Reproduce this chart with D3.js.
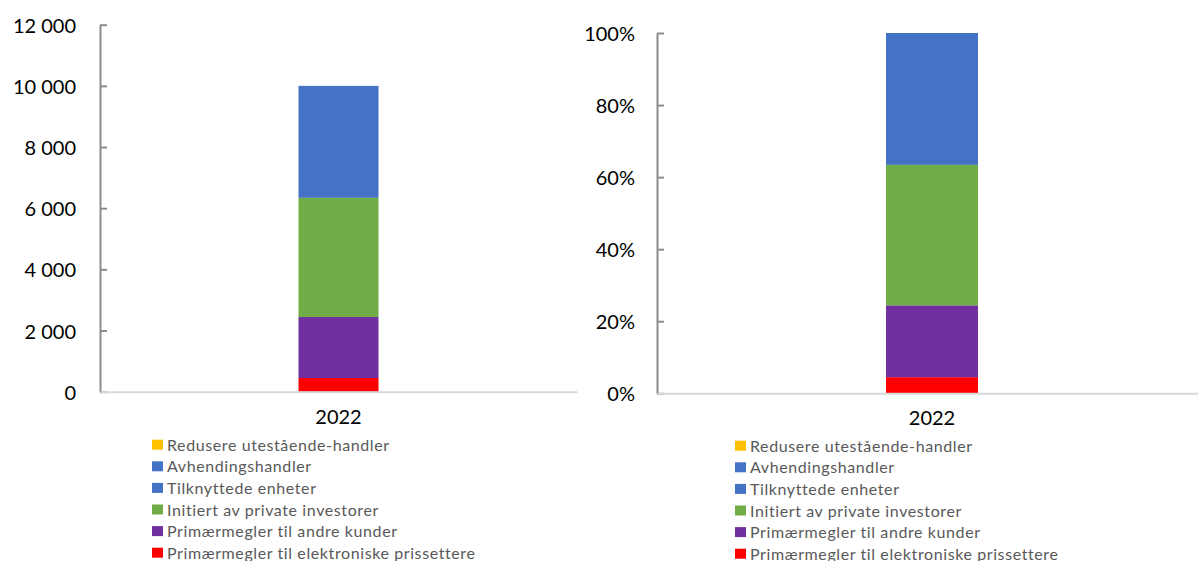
<!DOCTYPE html>
<html>
<head>
<meta charset="utf-8">
<script src="https://cdn.jsdelivr.net/npm/d3@7"></script>
<style>
  body { margin: 0; background: #fff; }
  svg { display: block; }
  text { font-family: Lato, "Open Sans", sans-serif; }
</style>
</head>
<body>
<div id="chart"></div>
<script>
const svgWidth = 1198;
const svgHeight = 561;

// data (stack order bottom -> top)
const years = ["2022"];
const seriesNames = [
  "Primærmegler til elektroniske prissettere",
  "Primærmegler til andre kunder",
  "Initiert av private investorer",
  "Tilknyttede enheter",
  "Avhendingshandler",
  "Redusere utestående-handler"
];
const seriesColors = ["#ff0000", "#7030a0", "#70ad47", "#4472c4", "#4472c4", "#ffc000"];
const values2022 = [448, 1994, 3898, 3660, 0, 0];
const countTicks = [0, 2000, 4000, 6000, 8000, 10000, 12000];
const shareTicks = [0, 0.2, 0.4, 0.6, 0.8, 1];

const svg = d3.select("#chart")
  .append("svg")
  .attr("width", svgWidth)
  .attr("height", svgHeight);

const nb = d3.formatLocale({decimal: ",", thousands: "\u00a0", grouping: [3], currency: ["", " kr"]});
const fmtCount = nb.format(",.0f");
const fmtPct = d3.format(".0%");

const total = d3.sum(values2022);

// one row per year, keyed by series name
const rowsCount = years.map(y => {
  const row = {year: y};
  seriesNames.forEach((s, i) => row[s] = values2022[i]);
  return row;
});
const rowsShare = years.map(y => {
  const row = {year: y};
  seriesNames.forEach((s, i) => row[s] = values2022[i] / total);
  return row;
});

const stack = d3.stack().keys(seriesNames);

function drawPanel(cfg) {
  const g = svg.append("g");

  const x = d3.scaleBand()
    .domain(years)
    .range([cfg.left, cfg.right])
    .paddingInner(0)
    .paddingOuter(((cfg.right - cfg.left) / cfg.barWidth - 1) / 2);

  const y = d3.scaleLinear()
    .domain(cfg.domain)
    .range([cfg.bottom, cfg.top]);

  // bars
  const layers = stack(cfg.rows);
  g.selectAll(".layer")
    .data(layers)
    .enter()
    .append("g")
    .attr("class", "layer")
    .attr("fill", (d, i) => seriesColors[i])
    .selectAll("rect")
    .data(d => d)
    .enter()
    .append("rect")
    .attr("x", d => x(d.data.year))
    .attr("width", x.bandwidth())
    .attr("y", d => y(d[1]))
    .attr("height", d => y(d[0]) - y(d[1]));

  // y axis, ticks pointing inwards
  const yAxis = g.append("g")
    .attr("transform", `translate(${cfg.left},0)`)
    .call(d3.axisLeft(y)
      .tickValues(cfg.ticks)
      .tickFormat(cfg.format)
      .tickSizeInner(-7)
      .tickSizeOuter(0)
      .tickPadding(cfg.labelGap));
  yAxis.select(".domain").attr("stroke", "#8c8c8c").attr("stroke-width", 2);
  yAxis.selectAll(".tick line").attr("stroke", "#8c8c8c").attr("stroke-width", 2);
  yAxis.selectAll(".tick text")
    .attr("fill", "#000")
    .style("font-size", "20px")
    .attr("dy", "0.38em");

  // x axis
  const xAxis = g.append("g")
    .attr("transform", `translate(0,${cfg.bottom})`)
    .call(d3.axisBottom(x).tickSize(0).tickPadding(18));
  xAxis.select(".domain").attr("stroke", "#d9d9d9").attr("stroke-width", 2);
  xAxis.selectAll(".tick text")
    .attr("fill", "#000")
    .style("font-size", "20px");

  // legend, reverse of stack order
  const legendItems = seriesNames.map((s, i) => ({name: s, color: seriesColors[i]})).reverse();
  const leg = g.selectAll(".leg")
    .data(legendItems)
    .enter()
    .append("g")
    .attr("class", "leg")
    .attr("transform", (d, i) => `translate(${cfg.legendX},${cfg.legendY + i * 21.6})`);
  leg.append("rect")
    .attr("x", 0)
    .attr("y", -11)
    .attr("width", 11)
    .attr("height", 10)
    .attr("fill", d => d.color);
  leg.append("text")
    .attr("x", 15)
    .attr("y", 0)
    .attr("fill", "#595959")
    .style("font-size", "16px")
    .style("letter-spacing", "0.6px")
    .text(d => d.name);
}

drawPanel({
  rows: rowsCount, domain: [0, 12000], ticks: countTicks, format: fmtCount,
  left: 100, right: 577, top: 24.7, bottom: 391.7, barWidth: 80, labelGap: 24,
  legendX: 152, legendY: 450.7
});

drawPanel({
  rows: rowsShare, domain: [0, 1], ticks: shareTicks, format: fmtPct,
  left: 657, right: 1207, top: 33, bottom: 393.3, barWidth: 92, labelGap: 22,
  legendX: 735, legendY: 451.7
});
</script>
</body>
</html>
